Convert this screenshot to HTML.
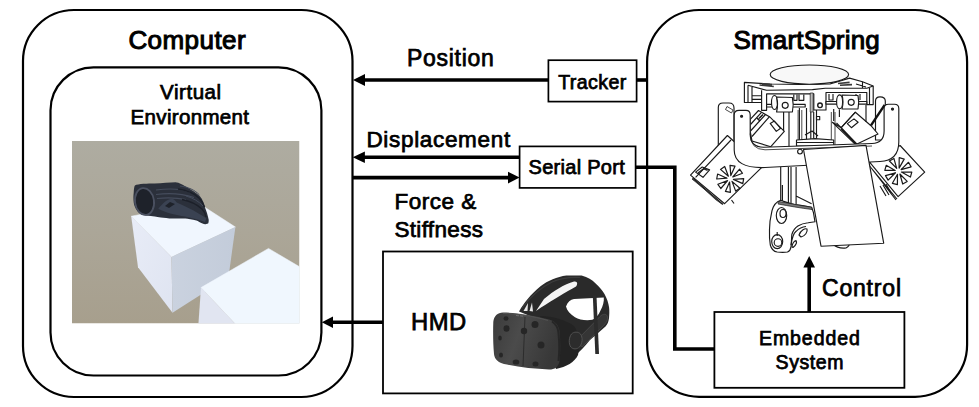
<!DOCTYPE html>
<html><head><meta charset="utf-8">
<style>
html,body{margin:0;padding:0;background:#fff;}
body{width:979px;height:407px;overflow:hidden;position:relative;}
svg{position:absolute;left:0;top:0;}
text{font-family:"Liberation Sans",sans-serif;font-weight:400;fill:#000;stroke:#000;stroke-width:0.75px;}
</style></head><body>
<svg width="979" height="407" viewBox="0 0 979 407">
<defs>
<clipPath id="veclip"><rect x="72" y="141" width="227.5" height="182.5"/></clipPath>
<linearGradient id="vebg" x1="0" y1="0" x2="0" y2="1">
  <stop offset="0" stop-color="#aeaca1"/><stop offset="0.5" stop-color="#aba698"/><stop offset="1" stop-color="#a79f8d"/>
</linearGradient>
<linearGradient id="c1l" x1="0" y1="0" x2="1" y2="1">
  <stop offset="0" stop-color="#e8ecf7"/><stop offset="1" stop-color="#dfe4f1"/>
</linearGradient>
<linearGradient id="c1r" x1="0" y1="0" x2="1" y2="0">
  <stop offset="0" stop-color="#cad2df"/><stop offset="1" stop-color="#c3ccda"/>
</linearGradient>
<linearGradient id="hmdface" x1="0" y1="0" x2="1" y2="0.3">
  <stop offset="0" stop-color="#3a3a3a"/><stop offset="0.45" stop-color="#4b4b4b"/><stop offset="1" stop-color="#383838"/>
</linearGradient>
</defs>
<!-- Computer outer box -->
<rect x="23" y="10" width="329.5" height="387" rx="51" ry="51" fill="none" stroke="#000" stroke-width="2.2"/>
<!-- VE inner box -->
<rect x="50.5" y="67.3" width="270.9" height="308.2" rx="43" ry="43" fill="none" stroke="#000" stroke-width="2.2"/>
<!-- SmartSpring box -->
<rect x="647.1" y="10" width="320" height="386.8" rx="52" ry="52" fill="none" stroke="#000" stroke-width="2.2"/>

<!-- Tracker box -->
<rect x="548.4" y="60.2" width="88.2" height="41.4" fill="#fff" stroke="#000" stroke-width="1.7"/>
<!-- Serial port box -->
<rect x="519.6" y="146.4" width="116" height="41.5" fill="#fff" stroke="#000" stroke-width="1.7"/>
<!-- HMD box -->
<rect x="383" y="251.5" width="249.7" height="141.9" fill="#fff" stroke="#000" stroke-width="1.8"/>
<!-- Embedded box -->
<rect x="714.4" y="312" width="190" height="75.8" fill="#fff" stroke="#000" stroke-width="1.8"/>

<!-- arrows / wires -->
<g stroke="#000" stroke-width="3.6" fill="none">
  <line x1="364" y1="80" x2="548.4" y2="80"/>
  <line x1="636.6" y1="80" x2="647" y2="80"/>
  <line x1="364" y1="157.2" x2="519.6" y2="157.2"/>
  <line x1="352.5" y1="177.6" x2="509" y2="177.6"/>
  <path d="M635.6 167.2 H674.8 V349 H714.4"/>
  <line x1="332" y1="322.3" x2="383" y2="322.3"/>
  <line x1="809.2" y1="266" x2="809.2" y2="312"/>
</g>
<g fill="#000">
  <polygon points="353,80 365,74 365,86"/>
  <polygon points="352.7,157.2 364.9,151.4 364.9,163"/>
  <polygon points="519.6,177.6 508,171.8 508,183.4"/>
  <polygon points="321.8,322.3 333,316.5 333,328.1"/>
  <polygon points="809.2,256 803.4,267.5 815,267.5"/>
</g>


<!-- HMD headset -->
<g>
  <!-- headband -->
  <path d="M519,311.5 C524,303 530,295 540.5,286.3 C548,280.5 557,277 566.4,275.6 L581.6,275.6 C588,277.5 592,280 595.4,283.2 C600,287.5 602.5,290.5 604.5,293.9 C607,298.5 608.5,303 609.1,307.6 C609.5,311 609.3,315 609,318.3 C608.5,322 607.5,324.5 605.5,326.5 L590,340 C585,346 580,352 572,358 L562,362 L548,320 L530,316 Z" fill="#2a2a2a"/>
  <path d="M522,308 C530,297 540,288 552,282 C560,278.5 570,277 580,277.5" stroke="#3c3c3c" stroke-width="1.2" fill="none"/>
  <!-- white slit in top strap -->
  <path d="M536,311 L544,299 C554,290.5 564,284.5 574,281.5 C577.5,280.8 578,284 576,286.5 C566,292 553,300 541,307.5 Z" fill="#f4f4f4"/>
  <!-- cable gaps -->
  <path d="M523.5,311 L528,303 L527.5,311 Z M529.5,311 L532,302.5 L533,311.5 Z" fill="#e8e8e8"/>
  <!-- white hole -->
  <path d="M566,306.5 C567.5,302 570.5,299.5 574,299 L603.8,297.5 C604.2,301.5 603,306 600.5,310.5 C598.5,315 596,318.5 592.3,319.8 C586,320.8 579,319.8 575,317.2 C570,314.2 567,310.5 566,306.5 Z" fill="#fff"/>
  <!-- vertical strap -->
  
  <!-- body behind faceplate -->
  <path d="M540,316 C552,316 566,320 574,326 C579,332 580,345 578,355 C575,362 566,367 556,369 L545,340 Z" fill="#232323"/>
  <!-- side knob -->
  <path d="M577,340 L600,316.5 C603,313.5 607,313.5 607.5,317 C608,320 606,323 603.5,325.5 L582,347 Z" fill="#353535" stroke="#4a4a4a" stroke-width="0.8"/>
  <path d="M571.5,334 C574,331.5 578,331.5 580.5,334 C583,337.5 582.5,343.5 579.5,347 C577,349.5 573,349.5 570.8,347 C568.5,343.5 568.8,337.5 571.5,334 Z" fill="#2c2c2c" stroke="#555" stroke-width="0.9"/>
  <path d="M592.8,295.5 L596.5,295.5 L599,354 L595.3,354 Z" fill="#2c2c2c"/>
  <!-- faceplate -->
  <path d="M503,312.5 C515,312.5 533,315 549,319.5 C555,321 558.5,325 559.5,331 C560.5,341 560.5,352 559.5,361 C558.5,367 555,369.5 549,369.5 C534,369 518,367 504,364 C498,362.5 494.5,359 494,354 C493,343 493,331 493.3,322 C493.8,316 497.5,312.8 503,312.5 Z" fill="url(#hmdface)"/>
  <path d="M503,313.5 C515,313.5 533,316 548,320.5" stroke="#555" stroke-width="0.8" fill="none"/>
  <path d="M552,321.5 C556,324 558,328 558.5,333 C559.5,343 559.5,353 558.5,361" stroke="#262626" stroke-width="2" fill="none"/>
  <path d="M516,315.5 L519,315.8 M520,315.8 L523,316.2" stroke="#777" stroke-width="0.8" fill="none"/>
  <path d="M525,317 L523,366" stroke="#2c2c2c" stroke-width="1" fill="none"/>
  <!-- dimples -->
  <g fill="#262626">
    <ellipse cx="506" cy="318.5" rx="2.5" ry="2.2"/>
    <ellipse cx="506.5" cy="328.5" rx="3" ry="3.3"/>
    <ellipse cx="524" cy="331" rx="3.2" ry="3.2"/>
    <ellipse cx="535" cy="324.5" rx="3.5" ry="3.5"/>
    <ellipse cx="541" cy="345" rx="3.5" ry="3.5"/>
    <ellipse cx="516" cy="362" rx="3.3" ry="2.6"/>
    <ellipse cx="535.5" cy="364" rx="3" ry="2.5"/>
    <ellipse cx="500" cy="338" rx="1.8" ry="2.5"/>
    <ellipse cx="501" cy="355" rx="2" ry="2.5"/>
  </g>
</g>


<!-- SmartSpring device drawing -->
<g stroke="#1a1a1a" stroke-width="1.15" fill="#fff" stroke-linejoin="round">
  <!-- back arms -->
  <path d="M718.3,150 L718.3,107.5 Q718.3,103 723,103 L729,103 Q734,103 734,108 L734,150 Z"/>
  <path d="M875.5,140 L875.5,101 Q875.5,96.9 880,96.9 Q885.3,96.9 885.3,101 L885.3,140 Z"/>
  <!-- top ellipse -->
  <!-- top frame -->
  <path d="M744.4,82.4 L770,84 L800,84.5 L830,84 L849.6,78.1 L862.5,81.7 L873.2,86 L873.2,104.6 L866.8,104.6 L866.8,92.5 L826,92.5 L826,110 L813.8,110 L813.8,93.9 L766.6,93.9 L766.6,110.3 L761.6,110.3 L761.6,102.5 L752,102.5 L752,102.5 L744.4,102.5 Z"/>
  <path d="M748,85.3 L766.6,90.3 L812.4,89.6 L825.3,88.2 L866.8,88.2 L873.2,86 M761.6,90.3 L761.6,102.5 M748,85.3 L748,102.5 M752,87 L752,102.5 M752,95.7 L761.6,95.7 M752,99.4 L761.6,99.4 M862.5,81.7 L862.5,88.2 M869.5,88 L869.5,104.6 M856,84 L866,87" fill="none"/>
  <path d="M759.5,85 L773.8,86.5 M762,83.8 L772,84.6 M838,83.5 L849.6,82.4 M840,85.3 L852,84.6" fill="none" stroke-width="1.6" stroke="#3a3a3a"/>
  <ellipse cx="809.4" cy="74.6" rx="39.2" ry="9.6" fill="#f8f8f8"/>
  <!-- inner frame small parts -->
  <path d="M793.8,94.6 L793.8,100.3 L797,100.3 L797,94.6 M799,94.6 L799,100.3 L803.8,100.3 L803.8,94.6 M829,94 L829,100 L833,100 L833,94 M856,94 L856,100 M860,94 L860,100" fill="none"/>
  <rect x="810.2" y="93" width="3" height="19" fill="#bbb" stroke-width="0.7"/>
  <!-- axles -->
  <rect x="766.6" y="104.4" width="38.6" height="2.6"/>
  <rect x="826" y="101.5" width="40.8" height="2.6"/>
  <!-- rollers -->
  <ellipse cx="774.5" cy="102.5" rx="3" ry="7"/>
  <path d="M776.6,97 L792.4,97.5 Q794,104.5 792.4,112 L776.6,112 Q778.5,104.5 776.6,97 Z"/>
  <circle cx="785.2" cy="105.3" r="3"/>
  <ellipse cx="839.6" cy="101.8" rx="3" ry="7"/>
  <path d="M842,95 L858,95.5 Q859.5,102 858,109 L842,109 Q844,102 842,95 Z"/>
  <circle cx="851.2" cy="102.3" r="3"/>
  <!-- center plate hole -->
  <circle cx="820" cy="105.3" r="2.3" fill="none" stroke-width="1.4"/>
  <!-- upper motors (behind arm) -->
  <path d="M758.5,110.5 L769.5,116.7 L784.3,131.4 L770.8,146.7 L752,141 L750,130 L750,119.7 Z"/>
  <path d="M769.5,116.7 L752,136.5 M765.5,114.5 L750.5,131 M761.5,112.3 L750.5,124.5" fill="none"/>
  <path d="M759,118.5 L763,114.5 M760,121 L757,118" fill="none" stroke-width="1.6"/>
  <path d="M770.2,123.4 L774.4,121 L780.6,128.3 L776.3,131.4 Z" fill="none"/>
  <path d="M855.4,112.2 L871,125.7 L878,134 L857,144 L854,143.2 L832.4,122.3 L841.2,127.7 Z"/>
  <path d="M855.4,112.2 L841.2,127.7 L856.8,143.9 M836.5,123 L854,141.5" fill="none"/>
  <path d="M841.2,129 L856.8,145" fill="none" stroke-width="1.7"/>
  <path d="M847.3,123.6 L854,118.9 L858.1,122.3 L851.4,127.7 Z" fill="none"/>
  <path d="M783.6,112 L783.6,131 M789,112 L789,148" fill="none"/>
  <path d="M798.1,110 L798.1,146 M801.8,110 L801.8,146 M831.3,112 L831.3,146 M835,112 L835,146" fill="none" stroke-width="0.8"/>
  <path d="M833.7,109 L833.7,121 M839.4,109.5 L839.4,117 M866,105 L866,122" fill="none"/>
  <!-- dark rod -->
  <path d="M884.7,104.8 L871,125.4" stroke="#111" stroke-width="2.4"/>
  <!-- column above arm -->
  <path d="M799.4,108 L799.4,148 M806.5,108 L806.5,140 M810.8,112 L810.8,140 M813.7,112 L813.7,140 M816.5,110 L816.5,140" fill="none"/>
  <rect x="816.5" y="116.5" width="3.2" height="3.2" fill="none"/>
  <path d="M796.5,140 L815,138.6 L833.7,140 L833.7,146 L796.5,146 Z M796.5,142.5 L833.7,142.5" />
  <path d="M805,135 L812,131 L818,136" fill="none"/>
  <!-- big lower left motor -->
  <path d="M727.4,135.5 L762.3,166.8 L724.6,203.7 L690.5,175.1 Z"/>
  <path d="M695.6,177.3 L731,140 M692.5,178 L723,204.5"  fill="none"/>
  <path d="M692,179 L696,181.5 L716,200 L722,204 Z" fill="#666" stroke-width="0.6"/>
  <path d="M695.6,172.1 L702.2,167 L709.6,169.9 L703,177.3 Z M698,173 L703.5,168.8 L707.5,170.5" fill="none"/>
  <path d="M731.5,200 L734,203.5" fill="none"/>
  <!-- big lower right motor -->
  <path d="M900.1,145.5 L924.7,172.1 L898.1,196.6 L869.6,162.2 Z"/>
  <path d="M869.6,166 L897,199 M872,169 L896,200" fill="none"/>
  <path d="M880,186 L886,196 M883,185 L889,195 M886,184 L891,193" fill="none" stroke-width="1.2"/>
  <!-- fans -->
  <g fill="#fff" stroke-width="1.2">
    <polygon points="730.8,175.6 730.0,165.3 735.0,166.2"/>
    <polygon points="732.8,177.0 739.6,169.1 742.5,173.3"/>
    <polygon points="733.4,179.4 743.7,178.6 742.8,183.6"/>
    <polygon points="732.0,181.4 739.9,188.2 735.7,191.1"/>
    <polygon points="729.6,182.0 730.4,192.3 725.4,191.4"/>
    <polygon points="727.6,180.6 720.8,188.5 717.9,184.3"/>
    <polygon points="727.0,178.2 716.7,179.0 717.6,174.0"/>
    <polygon points="728.4,176.2 720.5,169.4 724.7,166.5"/>
    <polygon points="899.1,168.1 899.2,157.7 904.2,159.1"/>
    <polygon points="901.1,169.6 908.5,162.3 911.1,166.8"/>
    <polygon points="901.4,172.0 911.8,172.1 910.4,177.1"/>
    <polygon points="899.9,174.0 907.2,181.4 902.7,184.0"/>
    <polygon points="897.5,174.3 897.4,184.7 892.4,183.3"/>
    <polygon points="895.5,172.8 888.1,180.1 885.5,175.6"/>
    <polygon points="895.2,170.4 884.8,170.3 886.2,165.3"/>
    <polygon points="896.7,168.4 889.4,161.0 893.9,158.4"/>
  </g>
  <!-- front U arm -->
  <path d="M734.2,115 Q734.2,110.4 739,110.4 L746,110.4 Q750.2,110.4 750.2,115 L750.2,133.7 Q750.2,147.2 763.7,147.2 L872,143.5 Q884.1,143 884.1,131 L884.1,108.5 Q884.1,104.2 888.5,104.2 L894.5,104.2 Q898.8,104.2 898.8,108.5 L898.8,142 Q898.8,160.5 880,161.5 L765,167.5 Q734.2,168.5 734.2,150 Z"/>
  <path d="M750.2,133.7 Q750.2,149.5 765,149.8 L872,146" fill="none" stroke-width="0.8"/>
  <path d="M727,106.5 L733,110 L731.5,113 L725.5,109.5 Z" stroke-width="0.8"/>
  <circle cx="741.6" cy="116.2" r="1" fill="#333"/>
  <circle cx="892.5" cy="109.1" r="1" fill="#333"/>
  <!-- column below arm -->
  <path d="M780.7,167 L780.7,201 M782.4,185 L782.4,201 M788.4,167 L788.4,203 M791,167 L791,203 M796.1,167 L796.1,204 M796.1,196 L811.6,203.8" fill="none"/>
  <!-- grip -->
  <path d="M780.7,200.3 C777,201.5 773.5,205 772,210.7 C770.5,217 769.5,223 769.5,229.6 C769.3,235 769.5,240 770.3,245 C771.5,249.5 774,251.5 777.2,252 C781,252.5 784.5,252.5 787.5,252 C789.5,251 790.7,249 791,246.8 C791.5,242 791.5,238 791.8,234.7 C793,230.5 795,228 797.9,226.1 C801,224 805,223 808.2,222.7 L815,221.8 L813.4,212.4 L811.6,207.2 C806,206 800,205 794.4,204.6 C789,203.5 784.5,201.5 780.7,200.3 Z"/>
  <path d="M779,201.5 C788,203 800,205.5 811.6,207.2 L812,209.5 C800,208 789,206 778,204 Z" fill="#777" stroke-width="0.7"/>
  <ellipse cx="781.5" cy="215.5" rx="5.2" ry="8" />
  <ellipse cx="783" cy="213.5" rx="3" ry="4" />
  <ellipse cx="777.2" cy="241.6" rx="5.5" ry="7"/>
  <circle cx="778" cy="242.5" r="3.8"/>
  <path d="M777.2,232 L777.2,236" fill="none"/>
  <path d="M791,245 C792,238 794,233 796.1,231.3 C799,228.5 802,227 806,226.5" fill="none"/>
  <path d="M799,235 C801,230 805,228 807,229 C808,232 805,236 801,237 Z" />
  <path d="M792,247 C792,244 794,241 796,240.5 C797,242 796,245 793,247.5 Z" />
  <circle cx="800" cy="151.6" r="2.4"/>
  <!-- small parts under plate -->
  <path d="M833,244 Q838,249 846,248 Q850,246 849,243" fill="none"/>
  <!-- paper plate -->
  <path d="M803.5,149.5 L866,145.4 L883.7,243.2 L821,246.2 Z"/>
</g>

<!-- Text -->
<text x="128.4" y="49.3" font-size="26" style="stroke-width:1.05px" textLength="117.2" lengthAdjust="spacing">Computer</text>
<text x="160.1" y="99" font-size="20.5" textLength="61.0" lengthAdjust="spacing">Virtual</text>
<text x="130.6" y="123.7" font-size="20.5" textLength="118.4" lengthAdjust="spacing">Environment</text>
<text x="407.0" y="65.5" font-size="23" textLength="86.8" lengthAdjust="spacing">Position</text>
<text x="558.2" y="88.5" font-size="19.6" textLength="68.0" lengthAdjust="spacing">Tracker</text>
<text x="366.4" y="147" font-size="22.5" textLength="143.8" lengthAdjust="spacing">Displacement</text>
<text x="528.6" y="174.2" font-size="20" textLength="96.1" lengthAdjust="spacing">Serial Port</text>
<text x="394.4" y="209.1" font-size="22.5" textLength="81.8" lengthAdjust="spacing">Force &amp;</text>
<text x="394.4" y="236.7" font-size="22.5" textLength="88.6" lengthAdjust="spacing">Stiffness</text>
<text x="411.0" y="330.4" font-size="23.8" textLength="55.2" lengthAdjust="spacing">HMD</text>
<text x="733.4" y="49" font-size="26" style="stroke-width:1.05px" textLength="146.4" lengthAdjust="spacing">SmartSpring</text>
<text x="822.0" y="295.5" font-size="23" textLength="79.0" lengthAdjust="spacing">Control</text>
<text x="759.0" y="344.8" font-size="19.5" textLength="100.8" lengthAdjust="spacing">Embedded</text>
<text x="775.6" y="369.4" font-size="19.5" textLength="67.8" lengthAdjust="spacing">System</text>

<!-- VE image -->
<g clip-path="url(#veclip)">
  <rect x="72" y="141" width="227.5" height="182.5" fill="url(#vebg)"/>
  <!-- cube 1 -->
  <polygon points="131.2,216.2 199,203.5 235.4,227 171.5,256.9" fill="#f0f6fe" stroke="#f0f6fe" stroke-width="0.5"/>
  <polygon points="131.2,216.2 171.5,256.9 172.5,312.8 138,267.2" fill="url(#c1l)"/>
  <polygon points="171.5,256.9 235.4,227 228.5,277 172.5,312.8" fill="url(#c1r)"/>
  <!-- cube 2 -->
  <polygon points="201,287.6 268.5,248.4 300,267 300,324 235.4,324" fill="#f0f7fe" stroke="#f0f7fe" stroke-width="0.5"/>
  <polygon points="201,287.6 235.4,324 198.4,324" fill="#e1e5f1"/>
  <!-- glove -->
  <path d="M134.9,185.4 C138,183.8 148,183.5 154.6,183.5 C162,183.3 170,182.5 175.5,182.3 C179,182.5 184,185.5 187.8,187.8 C191,189.5 197,193.5 200.1,196.5 C202.5,199 204.3,204 205,207.5 C206.3,210.5 208,216 208.7,219.8 C208.8,221.5 208.5,223 208.1,223.5 C206,224.5 204,224.3 203.8,224.1 C200,222.5 198,221 196.4,220.4 C192,219.5 188,218.8 185.4,218.6 C180,218.5 176,218.6 173,218.6 C168,218.2 164,217.8 160.8,217.4 C156,216.8 153,216.4 150.9,216.1 C147,215.6 144,215.3 142.3,214.9 C140,214 138.5,212.5 137.4,211.2 C135,208 134,205 133.7,202.6 C133.3,199 133.3,195.5 133.7,192.8 C133.9,189 134.2,186.5 134.9,185.4 Z" fill="#2b303b"/>
  <path d="M156,190 C168,188.5 180,188.5 190,192 M156,194.5 C168,193 182,193.5 194,197.5 M157,198.5 C167,197.5 178,198 186,199.5" stroke="#454c5c" stroke-width="1.1" fill="none"/>
  <path d="M158.3,208.7 C162,204 166,200 170.6,198.9 C173,198.5 175,200 176.7,202.6 C184,206 192,209.5 198.9,213.7 C202,215.5 205,217 206.3,218.6 L205,222 C200,220 192,218 185,216.5 C176,215 166,213 158.3,208.7 Z" fill="#3a4252"/>
  <path d="M165,206 L170,202 L175,204 L169,208 Z" fill="#1e222a"/>
  <path d="M178,189 C186,190 194,193 199,198 C202,201 203.5,204 204.5,207 M182,199.5 C190,201 197,204.5 202,209 C204,211 205.5,214 206,217" stroke="#1c2029" stroke-width="1.4" fill="none"/>
  <path d="M180,186 C188,187 195,190 199.5,195 M186,196 C193,198 199,201.5 203,206" stroke="#424a5a" stroke-width="1" fill="none"/>
  <ellipse cx="144.5" cy="201.5" rx="9.5" ry="13.5" transform="rotate(-8 144.5 201.5)" fill="#1e222a" stroke="#4a5060" stroke-width="1.8"/>
</g>
</svg>
</body></html>
